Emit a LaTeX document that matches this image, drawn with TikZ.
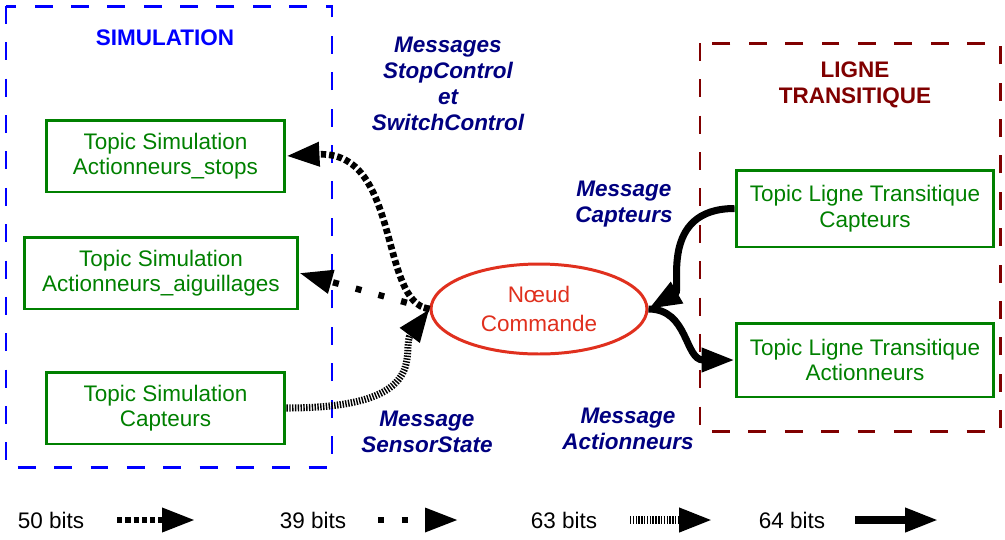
\documentclass[tikz,border=0pt]{standalone}
\usepackage{fontspec}
\setmainfont{Liberation Sans}
\usetikzlibrary{arrows.meta, shapes.geometric}
\definecolor{simblue}{HTML}{0000FF}
\definecolor{lignered}{HTML}{800000}
\definecolor{topicgreen}{HTML}{008000}
\definecolor{msgnavy}{HTML}{000080}
\definecolor{cmdred}{HTML}{E0301E}

\begin{document}
\begin{tikzpicture}[x=0.02cm, y=-0.02cm, >={Triangle[length=0.66cm, width=0.46cm]},
  topic/.style={draw=topicgreen, text=topicgreen, line width=1.7pt, align=center,
    font=\fontsize{12.8}{14.5}\selectfont, minimum height=1.44cm, inner sep=0pt},
  msg/.style={text=msgnavy, font=\fontsize{12.8}{14.8}\selectfont\bfseries\itshape, align=center},
  title/.style={font=\fontsize{12.8}{14.8}\selectfont\bfseries, align=center},
  legend/.style={font=\fontsize{12.8}{14.5}\selectfont},
  zone/.style={line width=1.7pt, dash pattern=on 10.2pt off 10.5pt},
  bits50/.style={line width=3.8pt, dash pattern=on 3pt off 1.7pt, ->},
  bits39/.style={line width=3.6pt, dash pattern=on 3.4pt off 10pt, ->},
  bits63/.style={line width=4pt, dash pattern=on 0.8pt off 0.8pt, ->},
  bits64/.style={line width=4pt, ->}]

\useasboundingbox (0,0) rectangle (1005,539);

%%% Simulation side %%%
\draw[simblue, zone] (6,6) rectangle (332,467);
\node[title, text=simblue] (simtitle) at (165,38) {SIMULATION};

\node[topic, minimum width=4.78cm] (simstops) at (165.5,156) {Topic Simulation\\Actionneurs\_stops};
\node[topic, minimum width=5.48cm] (simaig) at (161,273) {Topic Simulation\\Actionneurs\_aiguillages};
\node[topic, minimum width=4.78cm] (simcapt) at (165.5,408) {Topic Simulation\\Capteurs};

%%% Ligne transitique side %%%
\draw[lignered, zone] (700,43) rectangle (1000,431);
\node[title, text=lignered] (lttitle) at (855,85) {LIGNE\\TRANSITIQUE};

\node[topic, minimum width=5.16cm, minimum height=1.54cm] (ltcapt) at (865,208.5) {Topic Ligne Transitique\\Capteurs};
\node[topic, minimum width=5.16cm, minimum height=1.48cm] (ltact) at (865,360) {Topic Ligne Transitique\\Actionneurs};

%%% Command node %%%
\node[ellipse, draw=cmdred, text=cmdred, line width=1.7pt, minimum width=4.32cm, minimum height=1.8cm,
  inner sep=0pt, align=center, font=\fontsize{12.8}{17}\selectfont] (cmd) at (539,309) {Nœud\\Commande};

% Message labels
\node[msg] (msgctrl) at (448,84) {Messages\\StopControl\\et\\SwitchControl};
\node[msg] (msgcapt) at (624,204) {Message\\Capteurs};
\node[msg] (msgsensor) at (427,432) {Message\\SensorState};
\node[msg] (msgact) at (628,429) {Message\\Actionneurs};

% Connectors
\draw[bits50] (cmd.west) .. controls +(-51,-6) and +(115,-6) .. (simstops.east);
\draw[bits39] (cmd.west) -- (simaig.east);
\draw[bits63] (simcapt.east) .. controls +(150,0) and +(-30,40) .. (cmd.west);
\draw[bits64] (ltcapt.west) .. controls +(-76,0) and +(33,-19) .. (cmd.east);
\draw[bits64] (cmd.east) .. controls +(40,0) and +(-50,0) .. (ltact.west);

%%% Legend %%%
\node[legend] (leg50) at (51,520) {50 bits};
\node[legend] (leg39) at (313,520) {39 bits};
\node[legend] (leg63) at (564,520) {63 bits};
\node[legend] (leg64) at (792,520) {64 bits};
\coordinate (a50) at (117,520); \coordinate (b50) at (195,520);
\coordinate (a39) at (378,520); \coordinate (b39) at (458,520);
\coordinate (a63) at (630,520); \coordinate (b63) at (712,520);
\coordinate (a64) at (855,520); \coordinate (b64) at (938,520);
\draw[bits50] (a50) -- (b50);
\draw[bits39] (a39) -- (b39);
\draw[bits63] (a63) -- (b63);
\draw[bits64] (a64) -- (b64);

\end{tikzpicture}
\end{document}
